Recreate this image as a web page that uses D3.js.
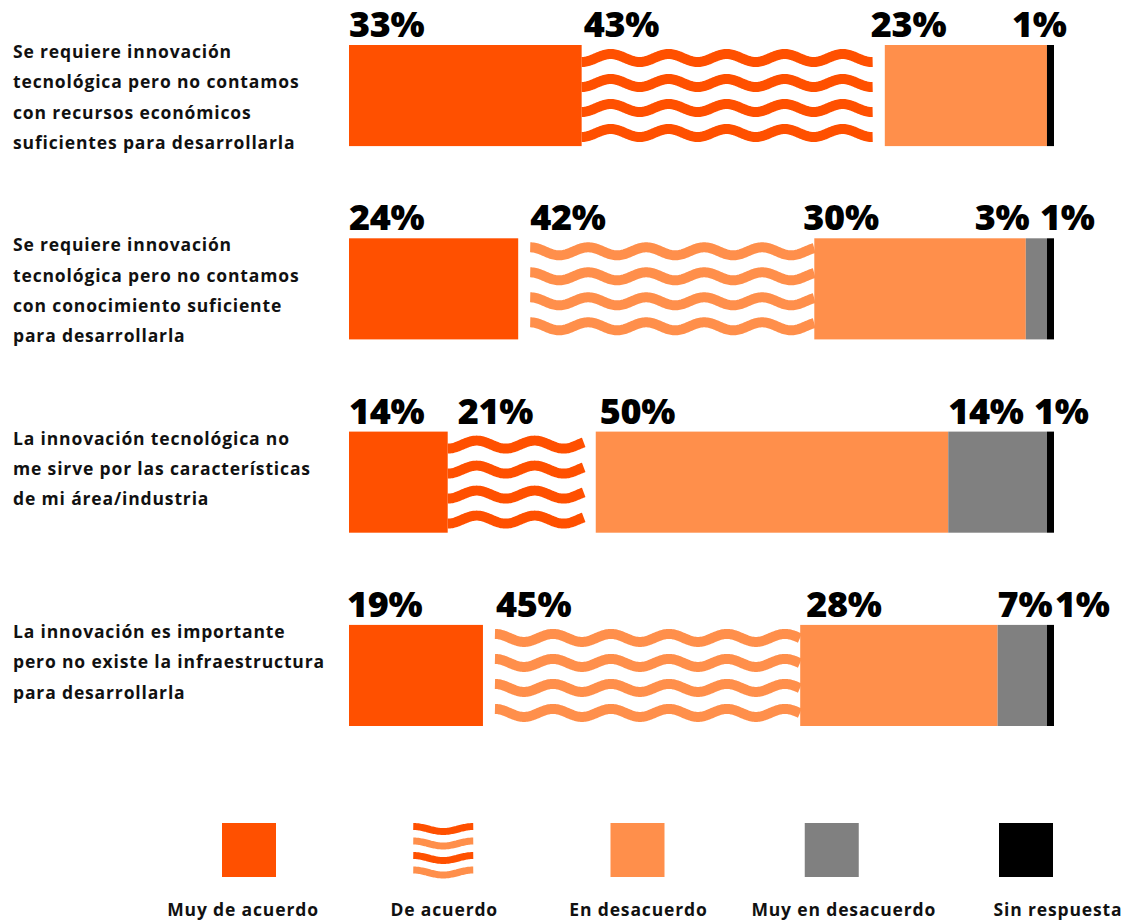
<!DOCTYPE html>
<html>
<head>
<meta charset="utf-8">
<script src="https://cdn.jsdelivr.net/npm/d3@7"></script>
<style>
  body { margin: 0; background: #fff; }
  .cat-label { font-family: "Open Sans", sans-serif; font-weight: 700; font-size: 17.5px; fill: #111; letter-spacing: 0.85px; }
  .pct-label { font-family: "Open Sans", sans-serif; font-weight: 800; font-size: 36px; fill: #000; letter-spacing: -0.3px; }
  .legend-label { font-family: "Open Sans", sans-serif; font-weight: 700; font-size: 17.5px; fill: #111; letter-spacing: 0.85px; }
</style>
</head>
<body>
<div id="chart"></div>
<script>
// ---- Data ----
const categories = [
  ['Se requiere innovación', 'tecnológica pero no contamos', 'con recursos económicos', 'suficientes para desarrollarla'],
  ['Se requiere innovación', 'tecnológica pero no contamos', 'con conocimiento suficiente', 'para desarrollarla'],
  ['La innovación tecnológica no', 'me sirve por las características', 'de mi área/industria'],
  ['La innovación es importante', 'pero no existe la infraestructura', 'para desarrollarla']
];
const seriesNames = ['Muy de acuerdo', 'De acuerdo', 'En desacuerdo', 'Muy en desacuerdo', 'Sin respuesta'];
const muyDeAcuerdo    = [33, 24, 14, 19];
const deAcuerdo       = [43, 42, 21, 45];
const enDesacuerdo    = [23, 30, 50, 28];
const muyEnDesacuerdo = [0, 3, 14, 7];
const sinRespuesta    = [1, 1, 1, 1];

// ---- Layout / style ----
const width = 1130, height = 921;
const ORANGE = '#ff5000', LIGHT = '#ff8f4b', GRAY = '#808080', BLACK = '#000000';
const colors = [ORANGE, null, LIGHT, GRAY, BLACK];
// wave tone per row (the waves lean on the neighbour of the same colour)
const waveTone = ['dark', 'light', 'dark', 'light'];
// hand nudges for percentage labels, in px, per row and series
const labelNudge = [
  [0, 2, -14, 0, -35],
  [0, 0, -11, -51, -7],
  [0, 10, 4, 0, -13],
  [-2, 1, 6, 0, 8]
];
// hand nudges for legend captions
const legendNudge = [-6, 1, 1, 12, 32];
const WAVE_GAP = 12, WAVE_PERIOD = 58, WAVE_AMP = 4, WAVE_STROKE = 10;

const rowKeys = categories.map((c, i) => 'row' + i);
const table = rowKeys.map((k, i) => ({
  key: k,
  lines: categories[i],
  'Muy de acuerdo': muyDeAcuerdo[i],
  'De acuerdo': deAcuerdo[i],
  'En desacuerdo': enDesacuerdo[i],
  'Muy en desacuerdo': muyEnDesacuerdo[i],
  'Sin respuesta': sinRespuesta[i]
}));

const stacked = d3.stack().keys(seriesNames)(table);

const x = d3.scaleLinear().domain([0, 100]).range([349, 1054]);
const y = d3.scaleBand().domain(rowKeys).range([45, 726]).paddingInner(0.477).paddingOuter(0);

const svg = d3.select('#chart').append('svg')
  .attr('width', width).attr('height', height);

// wavy path from x0 to x1 at centre cy, sign +1 starts at trough, -1 at peak
function wavePath(x0, x1, cy, amp, period, sign) {
  const pts = [];
  for (let px = x0; px <= x1 + 0.01; px += 1) {
    pts.push([px, cy + sign * amp * Math.cos(2 * Math.PI * (px - x0) / period)]);
  }
  return d3.line()(pts);
}

// ---- Category labels ----
svg.append('g').selectAll('text')
  .data(table)
  .enter().append('text')
    .attr('class', 'cat-label')
    .attr('x', 13)
    .attr('y', d => y(d.key) + 13)
    .selectAll('tspan')
    .data(d => d.lines)
    .enter().append('tspan')
      .attr('x', 13)
      .attr('dy', (d, i) => i === 0 ? 0 : 30.3)
      .text(d => d);

// ---- Bars ----
const bars = svg.append('g').attr('class', 'bars');
stacked.forEach((layer, si) => {
  layer.forEach((seg, ri) => {
    const key = rowKeys[ri];
    const x0 = x(seg[0]), x1 = x(seg[1]);
    if (seg[1] - seg[0] <= 0) return;
    if (si === 1) {
      const dark = waveTone[ri] === 'dark';
      const ws = dark ? x0 : x0 + WAVE_GAP;
      const we = dark ? x1 - WAVE_GAP : x1;
      const g = bars.append('g');
      for (let k = 0; k < 4; k++) {
        g.append('path')
          .attr('d', wavePath(ws, we, y(key) + 13 + k * 25, WAVE_AMP, WAVE_PERIOD, dark ? 1 : -1))
          .attr('fill', 'none')
          .attr('stroke', dark ? ORANGE : LIGHT)
          .attr('stroke-width', WAVE_STROKE);
      }
    } else {
      bars.append('rect')
        .attr('x', x0)
        .attr('y', y(key))
        .attr('width', x1 - x0)
        .attr('height', y.bandwidth())
        .attr('fill', colors[si]);
    }
  });
});

// ---- Percentage labels ----
const labels = svg.append('g');
stacked.forEach((layer, si) => {
  layer.forEach((seg, ri) => {
    const v = seg[1] - seg[0];
    if (v <= 0) return;
    let lx = x(seg[0]);
    if (si === 1 && waveTone[ri] === 'light') lx += WAVE_GAP;
    labels.append('text')
      .attr('class', 'pct-label')
      .attr('x', lx + labelNudge[ri][si])
      .attr('y', y(rowKeys[ri]) - 8)
      .text(v + '%');
  });
});

// ---- Legend ----
const lx = d3.scalePoint().domain(seriesNames).range([249, 1026]);
const legend = svg.append('g').selectAll('g')
  .data(seriesNames)
  .enter().append('g')
    .attr('transform', d => `translate(${lx(d)},0)`);

legend.each(function(d, i) {
  const g = d3.select(this);
  if (i === 1) {
    const tones = [ORANGE, LIGHT, ORANGE, LIGHT];
    tones.forEach((c, k) => {
      g.append('path')
        .attr('d', wavePath(-30, 30, 829 + k * 14.5, 2.5, 60, -1))
        .attr('fill', 'none')
        .attr('stroke', c)
        .attr('stroke-width', 7);
    });
  } else {
    g.append('rect')
      .attr('x', -27).attr('y', 823)
      .attr('width', 54).attr('height', 54)
      .attr('fill', colors[i]);
  }
  g.append('text')
    .attr('class', 'legend-label')
    .attr('text-anchor', 'middle')
    .attr('x', legendNudge[i])
    .attr('y', 916)
    .text(d);
});
</script>
</body>
</html>
